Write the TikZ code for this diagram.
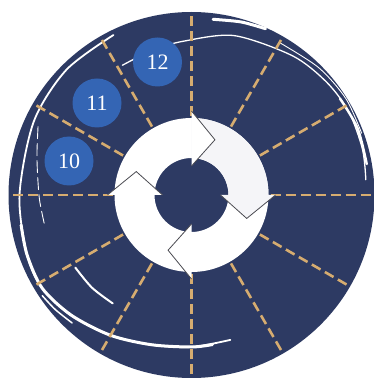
\documentclass[tikz,border=0pt]{standalone}
\usepackage{fontspec}
\setmainfont{Liberation Serif}
\usetikzlibrary{calc}
\definecolor{navy}{RGB}{45,58,99}
\definecolor{tanline}{RGB}{214,172,112}
\definecolor{badgeblue}{RGB}{52,101,180}
\definecolor{ringgray}{RGB}{245,245,248}
\definecolor{headedge}{RGB}{75,75,82}
\begin{document}
\begin{tikzpicture}[x=1pt,y=1pt,
  dashline/.style={draw=tanline, line width=2.6pt, dash pattern=on 10pt off 5pt},
  swoosh/.style={draw=white, line cap=round, line join=round},
  badge/.style={circle, fill=badgeblue, minimum size=49pt, inner sep=0pt, text=white, font=\fontsize{22}{22}\selectfont},
  headline/.style={draw=headedge, line width=0.8pt, line join=miter}]
\useasboundingbox (0,0) rectangle (374,378);
\fill[white] (0,0) rectangle (374,378);
\clip (0,0) rectangle (374,378);
\coordinate (C) at (191.5,183);
\fill[navy] (C) circle (183);
\begin{scope}[shift={(191.5,183)}]
  % white brush swooshes
  \draw[swoosh, line width=1.8pt] plot[smooth] coordinates {(116:178) (135:177) (155:174) (180:172) (200:175) (212:176) (225:170) (240:162) (255:155) (270:152) (285:150)};
  \draw[swoosh, line width=3pt] plot[smooth] coordinates {(190:173) (200:175) (212:176) (225:170) (240:162) (255:155) (270:152) (278:151)};
  \draw[swoosh, line width=0.9pt, dash pattern=on 12pt off 5pt] plot[smooth] coordinates {(156:168) (165:160) (173:155) (182:152) (191:150)};
  \draw[swoosh, line width=2pt] plot[smooth] coordinates {(212:137) (223:136) (234:134)};
  \draw[swoosh, line width=1.5pt] plot[smooth] coordinates {(214:180) (220:178) (227:175)};
  \draw[swoosh, line width=1.3pt] plot[smooth] coordinates {(118:147) (105:150) (93:154) (75:165) (54:172) (40:176) (28:178) (15:177) (5:175)};
  \draw[swoosh, line width=0.9pt] plot[smooth] coordinates {(60:176) (45:180) (32:182) (20:181)};
  \draw[swoosh, line width=3pt] plot[smooth] coordinates {(83:177) (74:180) (66:182)};
  \draw[swoosh, line width=2.4pt] plot[smooth] coordinates {(33:177) (22:179) (10:178)};
  % dashed dividers
  \foreach \a in {0,30,...,330} {
    \draw[dashline] (\a:79) -- (\a:181);
  }
  % ring
  \fill[white, even odd rule] (0,0) circle (77) (0,0) circle (37);
  \fill[ringgray] (0:77) arc[start angle=0, end angle=90, radius=77] -- (90:37) arc[start angle=90, end angle=0, radius=37] -- cycle;
  % arrow heads
  \foreach \a/\c in {0/ringgray,90/white,270/white,180/white} {
    \fill[\c] (\a:84) -- ({\a-23}:60) -- (\a:29) -- cycle;
    \draw[headline] (\a:84) -- ({\a-23}:60) -- (\a:29);
  }
\end{scope}
\node[badge] (b12) at (157.5,316) {12};
\node[badge] (b11) at (97,275) {11};
\node[badge] (b10) at (69,217) {10};
\end{tikzpicture}
\end{document}
